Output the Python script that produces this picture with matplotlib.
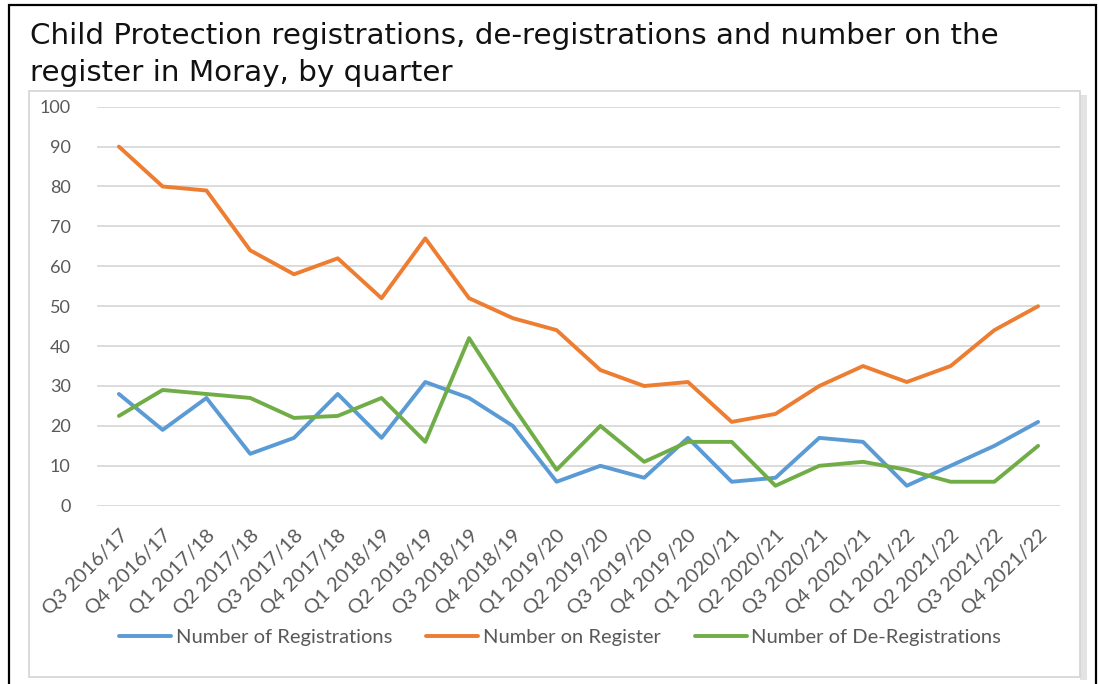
import matplotlib
matplotlib.use("Agg")
import matplotlib.pyplot as plt
import matplotlib.transforms as mtransforms
from matplotlib.patches import Rectangle

# Data
quarters = ["Q3 2016/17", "Q4 2016/17", "Q1 2017/18", "Q2 2017/18", "Q3 2017/18",
            "Q4 2017/18", "Q1 2018/19", "Q2 2018/19", "Q3 2018/19", "Q4 2018/19",
            "Q1 2019/20", "Q2 2019/20", "Q3 2019/20", "Q4 2019/20", "Q1 2020/21",
            "Q2 2020/21", "Q3 2020/21", "Q4 2020/21", "Q1 2021/22", "Q2 2021/22",
            "Q3 2021/22", "Q4 2021/22"]
registrations = [28, 19, 27, 13, 17, 28, 17, 31, 27, 20, 6,
                 10, 7, 17, 6, 7, 17, 16, 5, 10, 15, 21]
on_register = [90, 80, 79, 64, 58, 62, 52, 67, 52, 47, 44,
               34, 30, 31, 21, 23, 30, 35, 31, 35, 44, 50]
de_registrations = [22.5, 29, 28, 27, 22, 22.5, 27, 16, 42, 25, 9,
                    20, 11, 16, 16, 5, 10, 11, 9, 6, 6, 15]

title = "Child Protection registrations, de-registrations and number on the\nregister in Moray, by quarter"

W, H = 1099, 684
fig = plt.figure(figsize=(W / 100, H / 100), dpi=100)
fig.patch.set_facecolor("white")

# outer black frame
fig.patches.append(Rectangle((9 / W, -0.02), 1087 / W, 1 - 5 / H + 0.02,
                             transform=fig.transFigure, fill=False,
                             edgecolor="black", linewidth=1.6, zorder=-2))
# chart area box with a grey shadow on the right
fig.patches.append(Rectangle((1080 / W, 1 - 680 / H), 7 / W, 585 / H,
                             transform=fig.transFigure, facecolor="#e3e3e3",
                             edgecolor="none", zorder=-2))
fig.patches.append(Rectangle((29 / W, 1 - 677 / H), 1051 / W, 586 / H,
                             transform=fig.transFigure, facecolor="white",
                             edgecolor="#d4d4d4", linewidth=1.2, zorder=-1))

fig.text(30 / W, 1 - 22 / H, title, fontsize=21.2, family="DejaVu Sans",
         color="#111111", va="top", ha="left", linespacing=1.4)

ax = fig.add_axes([97 / W, 1 - 505.7 / H, 963 / W, 399 / H])
ax.set_facecolor("none")
ax.set_zorder(2)

x = list(range(len(quarters)))
lw = 2.8
ax.plot(x, registrations, color="#5B9BD5", lw=lw, label="Number of Registrations",
        solid_joinstyle="round", solid_capstyle="round")
ax.plot(x, on_register, color="#ED7D31", lw=lw, label="Number on Register",
        solid_joinstyle="round", solid_capstyle="round")
ax.plot(x, de_registrations, color="#70AD47", lw=lw, label="Number of De-Registrations",
        solid_joinstyle="round", solid_capstyle="round")

ax.set_xlim(-0.5, len(quarters) - 0.5)
ax.set_ylim(0, 100)
ax.set_yticks(range(0, 101, 10))
ax.yaxis.grid(True, color="#d9d9d9", lw=1.3)
ax.set_axisbelow(True)
for s in ax.spines.values():
    s.set_visible(False)
ax.tick_params(length=0, colors="#595959", labelsize=13)
ax.tick_params(axis="y", pad=19)
ax.set_yticklabels([str(v) for v in range(0, 101, 10)], family="Lato", color="#595959")

ax.set_xticks(x)
ax.set_xticklabels(quarters, rotation=45, ha="right", rotation_mode="anchor",
                   family="Lato", fontsize=14.5, color="#595959")
ax.tick_params(axis="x", pad=15)
offset = mtransforms.ScaledTranslation(0, 0, fig.dpi_scale_trans)
for lab in ax.get_xticklabels():
    lab.set_transform(lab.get_transform() + offset)

leg = fig.legend(loc="center", bbox_to_anchor=(560 / W, 1 - 637 / H), ncol=3,
                 frameon=False, prop={"family": "Lato", "size": 14.5},
                 handlelength=2.6, handletextpad=0.2, columnspacing=1.7)
for t in leg.get_texts():
    t.set_color("#595959")

fig.savefig("out.png", dpi=100)
